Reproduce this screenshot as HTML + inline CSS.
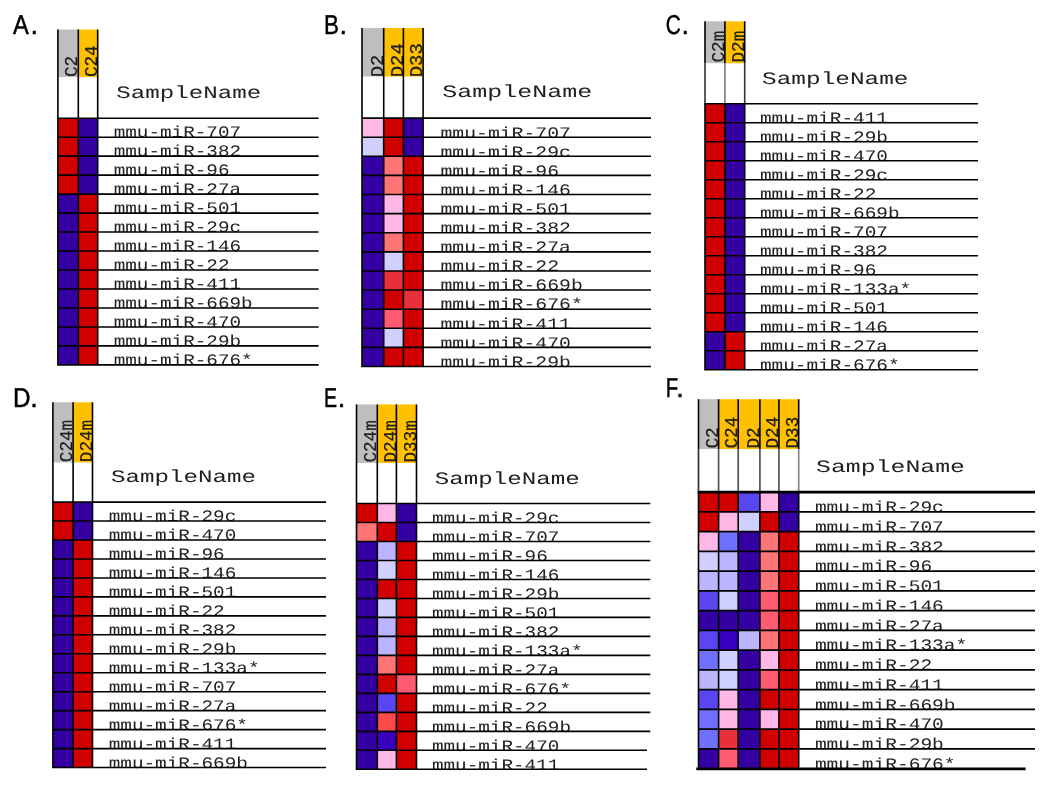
<!DOCTYPE html>
<html><head><meta charset="utf-8"><title>miRNA heatmaps</title>
<style>
html,body{margin:0;padding:0;background:#fff;}
body{width:1050px;height:791px;overflow:hidden;}
svg{display:block;text-rendering:geometricPrecision;filter:blur(0.3px);}
.lab{font-family:"Liberation Sans",sans-serif;fill:#000;stroke:#000;stroke-width:0.5;}
.cl{font-weight:normal;}
.t{font-family:"Liberation Mono",monospace;fill:#222;}
</style></head><body>

<svg width="1050" height="791" viewBox="0 0 1050 791">
<rect x="0" y="0" width="1050" height="791" fill="#fff"/>
<g>
<text class="lab" font-size="27.2" transform="translate(13.05,33.8) scale(0.870,1)">A</text>
<text class="lab" font-size="27.2" x="30.62" y="33.8">.</text>
<rect x="57.9" y="29.5" width="20.4" height="47.6" fill="#bebebe"/>
<rect x="78.3" y="29.5" width="19.4" height="47.6" fill="#ffc000"/>
<rect x="57.9" y="118.2" width="20.4" height="18.98" fill="#d10000"/>
<rect x="78.3" y="118.2" width="19.4" height="18.98" fill="#3500a2"/>
<rect x="57.9" y="137.18" width="20.4" height="18.98" fill="#d10000"/>
<rect x="78.3" y="137.18" width="19.4" height="18.98" fill="#3500a2"/>
<rect x="57.9" y="156.15" width="20.4" height="18.98" fill="#d10000"/>
<rect x="78.3" y="156.15" width="19.4" height="18.98" fill="#3500a2"/>
<rect x="57.9" y="175.13" width="20.4" height="18.98" fill="#d10000"/>
<rect x="78.3" y="175.13" width="19.4" height="18.98" fill="#3500a2"/>
<rect x="57.9" y="194.11" width="20.4" height="18.98" fill="#3500a2"/>
<rect x="78.3" y="194.11" width="19.4" height="18.98" fill="#d10000"/>
<rect x="57.9" y="213.09" width="20.4" height="18.98" fill="#3500a2"/>
<rect x="78.3" y="213.09" width="19.4" height="18.98" fill="#d10000"/>
<rect x="57.9" y="232.06" width="20.4" height="18.98" fill="#3500a2"/>
<rect x="78.3" y="232.06" width="19.4" height="18.98" fill="#d10000"/>
<rect x="57.9" y="251.04" width="20.4" height="18.98" fill="#3500a2"/>
<rect x="78.3" y="251.04" width="19.4" height="18.98" fill="#d10000"/>
<rect x="57.9" y="270.02" width="20.4" height="18.98" fill="#3500a2"/>
<rect x="78.3" y="270.02" width="19.4" height="18.98" fill="#d10000"/>
<rect x="57.9" y="288.99" width="20.4" height="18.98" fill="#3500a2"/>
<rect x="78.3" y="288.99" width="19.4" height="18.98" fill="#d10000"/>
<rect x="57.9" y="307.97" width="20.4" height="18.98" fill="#3500a2"/>
<rect x="78.3" y="307.97" width="19.4" height="18.98" fill="#d10000"/>
<rect x="57.9" y="326.95" width="20.4" height="18.98" fill="#3500a2"/>
<rect x="78.3" y="326.95" width="19.4" height="18.98" fill="#d10000"/>
<rect x="57.9" y="345.92" width="20.4" height="18.98" fill="#3500a2"/>
<rect x="78.3" y="345.92" width="19.4" height="18.98" fill="#d10000"/>
<text class="t" font-weight="normal" stroke="#000" stroke-width="0.2" font-size="18" transform="translate(77.4,77.1) rotate(-90) scale(0.9820,1)">C2</text>
<text class="t" font-weight="normal" stroke="#000" stroke-width="0.2" font-size="18" transform="translate(96.8,77.1) rotate(-90) scale(0.9820,1)">C24</text>
<text class="t" stroke="#111" stroke-width="0" font-size="17.5" transform="translate(116.3,98.3) scale(1.3800,1)">SampleName</text>
<text class="t" font-size="16" transform="translate(113.7,137.48) scale(1.2059,1)">mmu-miR-707</text>
<text class="t" font-size="16" transform="translate(113.7,156.45) scale(1.2059,1)">mmu-miR-382</text>
<text class="t" font-size="16" transform="translate(113.7,175.43) scale(1.2059,1)">mmu-miR-96</text>
<text class="t" font-size="16" transform="translate(113.7,194.41) scale(1.2059,1)">mmu-miR-27a</text>
<text class="t" font-size="16" transform="translate(113.7,213.39) scale(1.2059,1)">mmu-miR-501</text>
<text class="t" font-size="16" transform="translate(113.7,232.36) scale(1.2059,1)">mmu-miR-29c</text>
<text class="t" font-size="16" transform="translate(113.7,251.34) scale(1.2059,1)">mmu-miR-146</text>
<text class="t" font-size="16" transform="translate(113.7,270.32) scale(1.2059,1)">mmu-miR-22</text>
<text class="t" font-size="16" transform="translate(113.7,289.29) scale(1.2059,1)">mmu-miR-411</text>
<text class="t" font-size="16" transform="translate(113.7,308.27) scale(1.2059,1)">mmu-miR-669b</text>
<text class="t" font-size="16" transform="translate(113.7,327.25) scale(1.2059,1)">mmu-miR-470</text>
<text class="t" font-size="16" transform="translate(113.7,346.22) scale(1.2059,1)">mmu-miR-29b</text>
<text class="t" font-size="16" transform="translate(113.7,365.2) scale(1.2059,1)">mmu-miR-676*</text>
<path d="M57.9 29.5V365.7M78.3 29.5V365.7M97.7 29.5V365.7M57.1 118.2H318.6M57.1 137.18H318.6M57.1 156.15H318.6M57.1 175.13H318.6M57.1 194.11H318.6M57.1 213.09H318.6M57.1 232.06H318.6M57.1 251.04H318.6M57.1 270.02H318.6M57.1 288.99H318.6M57.1 307.97H318.6M57.1 326.95H318.6M57.1 345.92H318.6M57.1 364.9H318.6" stroke="#000" stroke-width="1.6" fill="none"/>
</g>
<g>
<text class="lab" font-size="27.2" transform="translate(323.97,33.8) scale(0.822,1)">B</text>
<text class="lab" font-size="27.2" x="339.52" y="33.8">.</text>
<rect x="362" y="27.9" width="21.7" height="48.6" fill="#bebebe"/>
<rect x="383.7" y="27.9" width="19.7" height="48.6" fill="#ffc000"/>
<rect x="403.4" y="27.9" width="19.7" height="48.6" fill="#ffc000"/>
<rect x="362" y="118.1" width="21.7" height="19.11" fill="#ffb8e6"/>
<rect x="383.7" y="118.1" width="19.7" height="19.11" fill="#d10000"/>
<rect x="403.4" y="118.1" width="19.7" height="19.11" fill="#3500a2"/>
<rect x="362" y="137.21" width="21.7" height="19.11" fill="#d0d0ff"/>
<rect x="383.7" y="137.21" width="19.7" height="19.11" fill="#d10000"/>
<rect x="403.4" y="137.21" width="19.7" height="19.11" fill="#3500a2"/>
<rect x="362" y="156.32" width="21.7" height="19.11" fill="#3500a2"/>
<rect x="383.7" y="156.32" width="19.7" height="19.11" fill="#ff7575"/>
<rect x="403.4" y="156.32" width="19.7" height="19.11" fill="#d10000"/>
<rect x="362" y="175.42" width="21.7" height="19.11" fill="#3500a2"/>
<rect x="383.7" y="175.42" width="19.7" height="19.11" fill="#ff7575"/>
<rect x="403.4" y="175.42" width="19.7" height="19.11" fill="#d10000"/>
<rect x="362" y="194.53" width="21.7" height="19.11" fill="#3500a2"/>
<rect x="383.7" y="194.53" width="19.7" height="19.11" fill="#ffb8e6"/>
<rect x="403.4" y="194.53" width="19.7" height="19.11" fill="#d10000"/>
<rect x="362" y="213.64" width="21.7" height="19.11" fill="#3500a2"/>
<rect x="383.7" y="213.64" width="19.7" height="19.11" fill="#ffb8e6"/>
<rect x="403.4" y="213.64" width="19.7" height="19.11" fill="#d10000"/>
<rect x="362" y="232.75" width="21.7" height="19.11" fill="#3500a2"/>
<rect x="383.7" y="232.75" width="19.7" height="19.11" fill="#ff7575"/>
<rect x="403.4" y="232.75" width="19.7" height="19.11" fill="#d10000"/>
<rect x="362" y="251.86" width="21.7" height="19.11" fill="#3500a2"/>
<rect x="383.7" y="251.86" width="19.7" height="19.11" fill="#d0d0ff"/>
<rect x="403.4" y="251.86" width="19.7" height="19.11" fill="#d10000"/>
<rect x="362" y="270.96" width="21.7" height="19.11" fill="#3500a2"/>
<rect x="383.7" y="270.96" width="19.7" height="19.11" fill="#e8303a"/>
<rect x="403.4" y="270.96" width="19.7" height="19.11" fill="#d10000"/>
<rect x="362" y="290.07" width="21.7" height="19.11" fill="#3500a2"/>
<rect x="383.7" y="290.07" width="19.7" height="19.11" fill="#d10000"/>
<rect x="403.4" y="290.07" width="19.7" height="19.11" fill="#e8303a"/>
<rect x="362" y="309.18" width="21.7" height="19.11" fill="#3500a2"/>
<rect x="383.7" y="309.18" width="19.7" height="19.11" fill="#ff5a70"/>
<rect x="403.4" y="309.18" width="19.7" height="19.11" fill="#d10000"/>
<rect x="362" y="328.29" width="21.7" height="19.11" fill="#3500a2"/>
<rect x="383.7" y="328.29" width="19.7" height="19.11" fill="#d0d0ff"/>
<rect x="403.4" y="328.29" width="19.7" height="19.11" fill="#d10000"/>
<rect x="362" y="347.4" width="21.7" height="19.11" fill="#3500a2"/>
<rect x="383.7" y="347.4" width="19.7" height="19.11" fill="#d10000"/>
<rect x="403.4" y="347.4" width="19.7" height="19.11" fill="#d10000"/>
<text class="t" font-weight="normal" stroke="#000" stroke-width="0.2" font-size="18" transform="translate(382.8,77.3) rotate(-90) scale(1.0507,1)">D2</text>
<text class="t" font-weight="normal" stroke="#000" stroke-width="0.2" font-size="18" transform="translate(402.5,77.3) rotate(-90) scale(1.0507,1)">D24</text>
<text class="t" font-weight="normal" stroke="#000" stroke-width="0.2" font-size="18" transform="translate(422.2,77.3) rotate(-90) scale(1.0507,1)">D33</text>
<text class="t" stroke="#111" stroke-width="0" font-size="17.5" transform="translate(442.3,97.4) scale(1.4269,1)">SampleName</text>
<text class="t" font-size="16" transform="translate(440.5,137.51) scale(1.2346,1)">mmu-miR-707</text>
<text class="t" font-size="16" transform="translate(440.5,156.62) scale(1.2346,1)">mmu-miR-29c</text>
<text class="t" font-size="16" transform="translate(440.5,175.72) scale(1.2346,1)">mmu-miR-96</text>
<text class="t" font-size="16" transform="translate(440.5,194.83) scale(1.2346,1)">mmu-miR-146</text>
<text class="t" font-size="16" transform="translate(440.5,213.94) scale(1.2346,1)">mmu-miR-501</text>
<text class="t" font-size="16" transform="translate(440.5,233.05) scale(1.2346,1)">mmu-miR-382</text>
<text class="t" font-size="16" transform="translate(440.5,252.16) scale(1.2346,1)">mmu-miR-27a</text>
<text class="t" font-size="16" transform="translate(440.5,271.26) scale(1.2346,1)">mmu-miR-22</text>
<text class="t" font-size="16" transform="translate(440.5,290.37) scale(1.2346,1)">mmu-miR-669b</text>
<text class="t" font-size="16" transform="translate(440.5,309.48) scale(1.2346,1)">mmu-miR-676*</text>
<text class="t" font-size="16" transform="translate(440.5,328.59) scale(1.2346,1)">mmu-miR-411</text>
<text class="t" font-size="16" transform="translate(440.5,347.7) scale(1.2346,1)">mmu-miR-470</text>
<text class="t" font-size="16" transform="translate(440.5,366.8) scale(1.2346,1)">mmu-miR-29b</text>
<path d="M362 27.9V367.3M383.7 27.9V367.3M403.4 27.9V367.3M423.1 27.9V367.3M361.2 118.1H651M361.2 137.21H651M361.2 156.32H651M361.2 175.42H651M361.2 194.53H651M361.2 213.64H651M361.2 232.75H651M361.2 251.86H651M361.2 270.96H651M361.2 290.07H651M361.2 309.18H651M361.2 328.29H651M361.2 347.4H651M361.2 366.5H651" stroke="#000" stroke-width="1.6" fill="none"/>
</g>
<g>
<text class="lab" font-size="27.2" transform="translate(665.74,33.8) scale(0.766,1)">C</text>
<text class="lab" font-size="27.2" x="681.52" y="33.8">.</text>
<rect x="705" y="21.3" width="19.9" height="41.9" fill="#bebebe"/>
<rect x="724.9" y="21.3" width="19.8" height="41.9" fill="#ffc000"/>
<rect x="705" y="103.8" width="19.9" height="19" fill="#d10000"/>
<rect x="724.9" y="103.8" width="19.8" height="19" fill="#3500a2"/>
<rect x="705" y="122.8" width="19.9" height="19" fill="#d10000"/>
<rect x="724.9" y="122.8" width="19.8" height="19" fill="#3500a2"/>
<rect x="705" y="141.8" width="19.9" height="19" fill="#d10000"/>
<rect x="724.9" y="141.8" width="19.8" height="19" fill="#3500a2"/>
<rect x="705" y="160.8" width="19.9" height="19" fill="#d10000"/>
<rect x="724.9" y="160.8" width="19.8" height="19" fill="#3500a2"/>
<rect x="705" y="179.8" width="19.9" height="19" fill="#d10000"/>
<rect x="724.9" y="179.8" width="19.8" height="19" fill="#3500a2"/>
<rect x="705" y="198.8" width="19.9" height="19" fill="#d10000"/>
<rect x="724.9" y="198.8" width="19.8" height="19" fill="#3500a2"/>
<rect x="705" y="217.8" width="19.9" height="19" fill="#d10000"/>
<rect x="724.9" y="217.8" width="19.8" height="19" fill="#3500a2"/>
<rect x="705" y="236.8" width="19.9" height="19" fill="#d10000"/>
<rect x="724.9" y="236.8" width="19.8" height="19" fill="#3500a2"/>
<rect x="705" y="255.8" width="19.9" height="19" fill="#d10000"/>
<rect x="724.9" y="255.8" width="19.8" height="19" fill="#3500a2"/>
<rect x="705" y="274.8" width="19.9" height="19" fill="#d10000"/>
<rect x="724.9" y="274.8" width="19.8" height="19" fill="#3500a2"/>
<rect x="705" y="293.8" width="19.9" height="19" fill="#d10000"/>
<rect x="724.9" y="293.8" width="19.8" height="19" fill="#3500a2"/>
<rect x="705" y="312.8" width="19.9" height="19" fill="#d10000"/>
<rect x="724.9" y="312.8" width="19.8" height="19" fill="#3500a2"/>
<rect x="705" y="331.8" width="19.9" height="19" fill="#3500a2"/>
<rect x="724.9" y="331.8" width="19.8" height="19" fill="#d10000"/>
<rect x="705" y="350.8" width="19.9" height="19" fill="#3500a2"/>
<rect x="724.9" y="350.8" width="19.8" height="19" fill="#d10000"/>
<text class="t" font-weight="normal" stroke="#000" stroke-width="0.15" font-size="18" transform="translate(724,62.5) rotate(-90) scale(0.9820,1)">C2m</text>
<text class="t" font-weight="normal" stroke="#000" stroke-width="0.15" font-size="18" transform="translate(743.8,62.5) rotate(-90) scale(0.9820,1)">D2m</text>
<text class="t" stroke="#111" stroke-width="0" font-size="17.5" transform="translate(762.1,84.1) scale(1.3938,1)">SampleName</text>
<text class="t" font-size="16" transform="translate(759.9,123.1) scale(1.2123,1)">mmu-miR-411</text>
<text class="t" font-size="16" transform="translate(759.9,142.1) scale(1.2123,1)">mmu-miR-29b</text>
<text class="t" font-size="16" transform="translate(759.9,161.1) scale(1.2123,1)">mmu-miR-470</text>
<text class="t" font-size="16" transform="translate(759.9,180.1) scale(1.2123,1)">mmu-miR-29c</text>
<text class="t" font-size="16" transform="translate(759.9,199.1) scale(1.2123,1)">mmu-miR-22</text>
<text class="t" font-size="16" transform="translate(759.9,218.1) scale(1.2123,1)">mmu-miR-669b</text>
<text class="t" font-size="16" transform="translate(759.9,237.1) scale(1.2123,1)">mmu-miR-707</text>
<text class="t" font-size="16" transform="translate(759.9,256.1) scale(1.2123,1)">mmu-miR-382</text>
<text class="t" font-size="16" transform="translate(759.9,275.1) scale(1.2123,1)">mmu-miR-96</text>
<text class="t" font-size="16" transform="translate(759.9,294.1) scale(1.2123,1)">mmu-miR-133a*</text>
<text class="t" font-size="16" transform="translate(759.9,313.1) scale(1.2123,1)">mmu-miR-501</text>
<text class="t" font-size="16" transform="translate(759.9,332.1) scale(1.2123,1)">mmu-miR-146</text>
<text class="t" font-size="16" transform="translate(759.9,351.1) scale(1.2123,1)">mmu-miR-27a</text>
<text class="t" font-size="16" transform="translate(759.9,370.1) scale(1.2123,1)">mmu-miR-676*</text>
<path d="M705 63.2V103.8" stroke="#333" stroke-width="1.6" fill="none"/>
<path d="M724.9 63.2V103.8" stroke="#777" stroke-width="1.6" fill="none"/>
<path d="M744.7 63.2V103.8" stroke="#333" stroke-width="1.6" fill="none"/>
<path d="M705 103.8V370.6M705 21.3V63.2M724.9 103.8V370.6M724.9 21.3V63.2M744.7 103.8V370.6M744.7 21.3V63.2M704.2 103.8H978M704.2 122.8H978M704.2 141.8H978M704.2 160.8H978M704.2 179.8H978M704.2 198.8H978M704.2 217.8H978M704.2 236.8H978M704.2 255.8H978M704.2 274.8H978M704.2 293.8H978M704.2 312.8H978M704.2 331.8H978M704.2 350.8H978M704.2 369.8H978" stroke="#000" stroke-width="1.6" fill="none"/>
</g>
<g>
<text class="lab" font-size="27.2" transform="translate(12.91,407.1) scale(0.894,1)">D</text>
<text class="lab" font-size="27.2" x="30.32" y="407.1">.</text>
<rect x="52.9" y="402.3" width="20.2" height="60.1" fill="#bebebe"/>
<rect x="73.1" y="402.3" width="19.4" height="60.1" fill="#ffc000"/>
<rect x="52.9" y="502.1" width="20.2" height="18.96" fill="#d10000"/>
<rect x="73.1" y="502.1" width="19.4" height="18.96" fill="#3500a2"/>
<rect x="52.9" y="521.06" width="20.2" height="18.96" fill="#d10000"/>
<rect x="73.1" y="521.06" width="19.4" height="18.96" fill="#3500a2"/>
<rect x="52.9" y="540.02" width="20.2" height="18.96" fill="#3500a2"/>
<rect x="73.1" y="540.02" width="19.4" height="18.96" fill="#d10000"/>
<rect x="52.9" y="558.98" width="20.2" height="18.96" fill="#3500a2"/>
<rect x="73.1" y="558.98" width="19.4" height="18.96" fill="#d10000"/>
<rect x="52.9" y="577.94" width="20.2" height="18.96" fill="#3500a2"/>
<rect x="73.1" y="577.94" width="19.4" height="18.96" fill="#d10000"/>
<rect x="52.9" y="596.9" width="20.2" height="18.96" fill="#3500a2"/>
<rect x="73.1" y="596.9" width="19.4" height="18.96" fill="#d10000"/>
<rect x="52.9" y="615.86" width="20.2" height="18.96" fill="#3500a2"/>
<rect x="73.1" y="615.86" width="19.4" height="18.96" fill="#d10000"/>
<rect x="52.9" y="634.82" width="20.2" height="18.96" fill="#3500a2"/>
<rect x="73.1" y="634.82" width="19.4" height="18.96" fill="#d10000"/>
<rect x="52.9" y="653.78" width="20.2" height="18.96" fill="#3500a2"/>
<rect x="73.1" y="653.78" width="19.4" height="18.96" fill="#d10000"/>
<rect x="52.9" y="672.74" width="20.2" height="18.96" fill="#3500a2"/>
<rect x="73.1" y="672.74" width="19.4" height="18.96" fill="#d10000"/>
<rect x="52.9" y="691.7" width="20.2" height="18.96" fill="#3500a2"/>
<rect x="73.1" y="691.7" width="19.4" height="18.96" fill="#d10000"/>
<rect x="52.9" y="710.66" width="20.2" height="18.96" fill="#3500a2"/>
<rect x="73.1" y="710.66" width="19.4" height="18.96" fill="#d10000"/>
<rect x="52.9" y="729.62" width="20.2" height="18.96" fill="#3500a2"/>
<rect x="73.1" y="729.62" width="19.4" height="18.96" fill="#d10000"/>
<rect x="52.9" y="748.58" width="20.2" height="18.96" fill="#3500a2"/>
<rect x="73.1" y="748.58" width="19.4" height="18.96" fill="#d10000"/>
<text class="t" font-weight="normal" stroke="#000" stroke-width="0.15" font-size="18" transform="translate(72.2,462.2) rotate(-90) scale(0.9820,1)">C24m</text>
<text class="t" font-weight="normal" stroke="#000" stroke-width="0.15" font-size="18" transform="translate(91.6,462.2) rotate(-90) scale(0.9820,1)">D24m</text>
<text class="t" stroke="#111" stroke-width="0" font-size="17.5" transform="translate(111.1,482.4) scale(1.3800,1)">SampleName</text>
<text class="t" font-size="16" transform="translate(108.7,521.36) scale(1.2081,1)">mmu-miR-29c</text>
<text class="t" font-size="16" transform="translate(108.7,540.32) scale(1.2081,1)">mmu-miR-470</text>
<text class="t" font-size="16" transform="translate(108.7,559.28) scale(1.2081,1)">mmu-miR-96</text>
<text class="t" font-size="16" transform="translate(108.7,578.24) scale(1.2081,1)">mmu-miR-146</text>
<text class="t" font-size="16" transform="translate(108.7,597.2) scale(1.2081,1)">mmu-miR-501</text>
<text class="t" font-size="16" transform="translate(108.7,616.16) scale(1.2081,1)">mmu-miR-22</text>
<text class="t" font-size="16" transform="translate(108.7,635.12) scale(1.2081,1)">mmu-miR-382</text>
<text class="t" font-size="16" transform="translate(108.7,654.08) scale(1.2081,1)">mmu-miR-29b</text>
<text class="t" font-size="16" transform="translate(108.7,673.04) scale(1.2081,1)">mmu-miR-133a*</text>
<text class="t" font-size="16" transform="translate(108.7,692) scale(1.2081,1)">mmu-miR-707</text>
<text class="t" font-size="16" transform="translate(108.7,710.96) scale(1.2081,1)">mmu-miR-27a</text>
<text class="t" font-size="16" transform="translate(108.7,729.92) scale(1.2081,1)">mmu-miR-676*</text>
<text class="t" font-size="16" transform="translate(108.7,748.88) scale(1.2081,1)">mmu-miR-411</text>
<text class="t" font-size="16" transform="translate(108.7,767.84) scale(1.2081,1)">mmu-miR-669b</text>
<path d="M52.9 402.3V768.34M73.1 402.3V768.34M92.5 402.3V768.34M52.1 502.1H326M52.1 521.06H326M52.1 540.02H326M52.1 558.98H326M52.1 577.94H326M52.1 596.9H326M52.1 615.86H326M52.1 634.82H326M52.1 653.78H326M52.1 672.74H326M52.1 691.7H326M52.1 710.66H326M52.1 729.62H326M52.1 748.58H326M52.1 767.54H326" stroke="#000" stroke-width="1.6" fill="none"/>
</g>
<g>
<text class="lab" font-size="27.2" transform="translate(324,407.1) scale(0.719,1)">E</text>
<text class="lab" font-size="27.2" x="337.72" y="407.1">.</text>
<rect x="356.5" y="404.4" width="20.8" height="58.6" fill="#bebebe"/>
<rect x="377.3" y="404.4" width="19.1" height="58.6" fill="#ffc000"/>
<rect x="396.4" y="404.4" width="20.1" height="58.6" fill="#ffc000"/>
<rect x="356.5" y="503.5" width="20.8" height="18.99" fill="#d10000"/>
<rect x="377.3" y="503.5" width="19.1" height="18.99" fill="#ffb8e6"/>
<rect x="396.4" y="503.5" width="20.1" height="18.99" fill="#3500a2"/>
<rect x="356.5" y="522.49" width="20.8" height="18.99" fill="#ff7575"/>
<rect x="377.3" y="522.49" width="19.1" height="18.99" fill="#d10000"/>
<rect x="396.4" y="522.49" width="20.1" height="18.99" fill="#3500a2"/>
<rect x="356.5" y="541.47" width="20.8" height="18.99" fill="#3500a2"/>
<rect x="377.3" y="541.47" width="19.1" height="18.99" fill="#bcb4ff"/>
<rect x="396.4" y="541.47" width="20.1" height="18.99" fill="#d10000"/>
<rect x="356.5" y="560.46" width="20.8" height="18.99" fill="#3500a2"/>
<rect x="377.3" y="560.46" width="19.1" height="18.99" fill="#d0d0ff"/>
<rect x="396.4" y="560.46" width="20.1" height="18.99" fill="#d10000"/>
<rect x="356.5" y="579.44" width="20.8" height="18.99" fill="#3500a2"/>
<rect x="377.3" y="579.44" width="19.1" height="18.99" fill="#d10000"/>
<rect x="396.4" y="579.44" width="20.1" height="18.99" fill="#d10000"/>
<rect x="356.5" y="598.43" width="20.8" height="18.99" fill="#3500a2"/>
<rect x="377.3" y="598.43" width="19.1" height="18.99" fill="#d0d0ff"/>
<rect x="396.4" y="598.43" width="20.1" height="18.99" fill="#d10000"/>
<rect x="356.5" y="617.42" width="20.8" height="18.99" fill="#3500a2"/>
<rect x="377.3" y="617.42" width="19.1" height="18.99" fill="#bcb4ff"/>
<rect x="396.4" y="617.42" width="20.1" height="18.99" fill="#d10000"/>
<rect x="356.5" y="636.4" width="20.8" height="18.99" fill="#3500a2"/>
<rect x="377.3" y="636.4" width="19.1" height="18.99" fill="#bcb4ff"/>
<rect x="396.4" y="636.4" width="20.1" height="18.99" fill="#d10000"/>
<rect x="356.5" y="655.39" width="20.8" height="18.99" fill="#3500a2"/>
<rect x="377.3" y="655.39" width="19.1" height="18.99" fill="#ff7575"/>
<rect x="396.4" y="655.39" width="20.1" height="18.99" fill="#d10000"/>
<rect x="356.5" y="674.37" width="20.8" height="18.99" fill="#3500a2"/>
<rect x="377.3" y="674.37" width="19.1" height="18.99" fill="#d10000"/>
<rect x="396.4" y="674.37" width="20.1" height="18.99" fill="#ff5a70"/>
<rect x="356.5" y="693.36" width="20.8" height="18.99" fill="#3500a2"/>
<rect x="377.3" y="693.36" width="19.1" height="18.99" fill="#5a46f0"/>
<rect x="396.4" y="693.36" width="20.1" height="18.99" fill="#d10000"/>
<rect x="356.5" y="712.35" width="20.8" height="18.99" fill="#3500a2"/>
<rect x="377.3" y="712.35" width="19.1" height="18.99" fill="#ff4a4a"/>
<rect x="396.4" y="712.35" width="20.1" height="18.99" fill="#d10000"/>
<rect x="356.5" y="731.33" width="20.8" height="18.99" fill="#3500a2"/>
<rect x="377.3" y="731.33" width="19.1" height="18.99" fill="#3a00c0"/>
<rect x="396.4" y="731.33" width="20.1" height="18.99" fill="#d10000"/>
<rect x="356.5" y="750.32" width="20.8" height="18.99" fill="#3500a2"/>
<rect x="377.3" y="750.32" width="19.1" height="18.99" fill="#ffb8e6"/>
<rect x="396.4" y="750.32" width="20.1" height="18.99" fill="#d10000"/>
<text class="t" font-weight="normal" stroke="#000" stroke-width="0.15" font-size="18" transform="translate(376.4,462.6) rotate(-90) scale(0.9820,1)">C24m</text>
<text class="t" font-weight="normal" stroke="#000" stroke-width="0.15" font-size="18" transform="translate(395.5,462.6) rotate(-90) scale(0.9820,1)">D24m</text>
<text class="t" font-weight="normal" stroke="#000" stroke-width="0.15" font-size="18" transform="translate(415.6,462.6) rotate(-90) scale(0.9820,1)">D33m</text>
<text class="t" stroke="#111" stroke-width="0" font-size="17.5" transform="translate(434.7,484.1) scale(1.3800,1)">SampleName</text>
<text class="t" font-size="16" transform="translate(431.9,522.79) scale(1.2070,1)">mmu-miR-29c</text>
<text class="t" font-size="16" transform="translate(431.9,541.77) scale(1.2070,1)">mmu-miR-707</text>
<text class="t" font-size="16" transform="translate(431.9,560.76) scale(1.2070,1)">mmu-miR-96</text>
<text class="t" font-size="16" transform="translate(431.9,579.74) scale(1.2070,1)">mmu-miR-146</text>
<text class="t" font-size="16" transform="translate(431.9,598.73) scale(1.2070,1)">mmu-miR-29b</text>
<text class="t" font-size="16" transform="translate(431.9,617.72) scale(1.2070,1)">mmu-miR-501</text>
<text class="t" font-size="16" transform="translate(431.9,636.7) scale(1.2070,1)">mmu-miR-382</text>
<text class="t" font-size="16" transform="translate(431.9,655.69) scale(1.2070,1)">mmu-miR-133a*</text>
<text class="t" font-size="16" transform="translate(431.9,674.67) scale(1.2070,1)">mmu-miR-27a</text>
<text class="t" font-size="16" transform="translate(431.9,693.66) scale(1.2070,1)">mmu-miR-676*</text>
<text class="t" font-size="16" transform="translate(431.9,712.65) scale(1.2070,1)">mmu-miR-22</text>
<text class="t" font-size="16" transform="translate(431.9,731.63) scale(1.2070,1)">mmu-miR-669b</text>
<text class="t" font-size="16" transform="translate(431.9,750.62) scale(1.2070,1)">mmu-miR-470</text>
<text class="t" font-size="16" transform="translate(431.9,769.6) scale(1.2070,1)">mmu-miR-411</text>
<path d="M356.5 404.4V770.1M377.3 404.4V770.1M396.4 404.4V770.1M416.5 404.4V770.1M355.7 503.5H650.3M355.7 522.49H650.3M355.7 541.47H650.3M355.7 560.46H650.3M355.7 579.44H650.3M355.7 598.43H650.3M355.7 617.42H650.3M355.7 636.4H650.3M355.7 655.39H650.3M355.7 674.37H650.3M355.7 693.36H650.3M355.7 712.35H650.3M355.7 731.33H650.3M355.7 750.32H647M355.7 769.3H647" stroke="#000" stroke-width="1.6" fill="none"/>
</g>
<g>
<text class="lab" font-size="27.2" transform="translate(665.64,396.6) scale(0.745,1)">F</text>
<text class="lab" font-size="27.2" x="676.22" y="396.6">.</text>
<rect x="698.5" y="399.2" width="20.1" height="49.9" fill="#bebebe"/>
<rect x="718.6" y="399.2" width="19.6" height="49.9" fill="#ffc000"/>
<rect x="738.2" y="399.2" width="21.7" height="49.9" fill="#ffc000"/>
<rect x="759.9" y="399.2" width="19" height="49.9" fill="#ffc000"/>
<rect x="778.9" y="399.2" width="19.8" height="49.9" fill="#ffc000"/>
<rect x="698.5" y="492.1" width="20.1" height="19.75" fill="#d10000"/>
<rect x="718.6" y="492.1" width="19.6" height="19.75" fill="#d10000"/>
<rect x="738.2" y="492.1" width="21.7" height="19.75" fill="#5a46f0"/>
<rect x="759.9" y="492.1" width="19" height="19.75" fill="#ffb8e6"/>
<rect x="778.9" y="492.1" width="19.8" height="19.75" fill="#3500a2"/>
<rect x="698.5" y="511.85" width="20.1" height="19.75" fill="#d10000"/>
<rect x="718.6" y="511.85" width="19.6" height="19.75" fill="#ffb8e6"/>
<rect x="738.2" y="511.85" width="21.7" height="19.75" fill="#d0d0ff"/>
<rect x="759.9" y="511.85" width="19" height="19.75" fill="#d10000"/>
<rect x="778.9" y="511.85" width="19.8" height="19.75" fill="#3500a2"/>
<rect x="698.5" y="531.6" width="20.1" height="19.75" fill="#ffb8e6"/>
<rect x="718.6" y="531.6" width="19.6" height="19.75" fill="#7070ff"/>
<rect x="738.2" y="531.6" width="21.7" height="19.75" fill="#3500a2"/>
<rect x="759.9" y="531.6" width="19" height="19.75" fill="#ff7575"/>
<rect x="778.9" y="531.6" width="19.8" height="19.75" fill="#d10000"/>
<rect x="698.5" y="551.35" width="20.1" height="19.75" fill="#d0d0ff"/>
<rect x="718.6" y="551.35" width="19.6" height="19.75" fill="#bcb4ff"/>
<rect x="738.2" y="551.35" width="21.7" height="19.75" fill="#3500a2"/>
<rect x="759.9" y="551.35" width="19" height="19.75" fill="#ff7575"/>
<rect x="778.9" y="551.35" width="19.8" height="19.75" fill="#d10000"/>
<rect x="698.5" y="571.1" width="20.1" height="19.75" fill="#bcb4ff"/>
<rect x="718.6" y="571.1" width="19.6" height="19.75" fill="#bcb4ff"/>
<rect x="738.2" y="571.1" width="21.7" height="19.75" fill="#3500a2"/>
<rect x="759.9" y="571.1" width="19" height="19.75" fill="#ff7575"/>
<rect x="778.9" y="571.1" width="19.8" height="19.75" fill="#d10000"/>
<rect x="698.5" y="590.85" width="20.1" height="19.75" fill="#5a46f0"/>
<rect x="718.6" y="590.85" width="19.6" height="19.75" fill="#d0d0ff"/>
<rect x="738.2" y="590.85" width="21.7" height="19.75" fill="#3500a2"/>
<rect x="759.9" y="590.85" width="19" height="19.75" fill="#ff5a70"/>
<rect x="778.9" y="590.85" width="19.8" height="19.75" fill="#d10000"/>
<rect x="698.5" y="610.6" width="20.1" height="19.75" fill="#3500a2"/>
<rect x="718.6" y="610.6" width="19.6" height="19.75" fill="#3500a2"/>
<rect x="738.2" y="610.6" width="21.7" height="19.75" fill="#3500a2"/>
<rect x="759.9" y="610.6" width="19" height="19.75" fill="#ff5a70"/>
<rect x="778.9" y="610.6" width="19.8" height="19.75" fill="#d10000"/>
<rect x="698.5" y="630.35" width="20.1" height="19.75" fill="#5a46f0"/>
<rect x="718.6" y="630.35" width="19.6" height="19.75" fill="#3a00c0"/>
<rect x="738.2" y="630.35" width="21.7" height="19.75" fill="#bcb4ff"/>
<rect x="759.9" y="630.35" width="19" height="19.75" fill="#ff7575"/>
<rect x="778.9" y="630.35" width="19.8" height="19.75" fill="#d10000"/>
<rect x="698.5" y="650.1" width="20.1" height="19.75" fill="#7070ff"/>
<rect x="718.6" y="650.1" width="19.6" height="19.75" fill="#d0d0ff"/>
<rect x="738.2" y="650.1" width="21.7" height="19.75" fill="#3500a2"/>
<rect x="759.9" y="650.1" width="19" height="19.75" fill="#ffb8e6"/>
<rect x="778.9" y="650.1" width="19.8" height="19.75" fill="#d10000"/>
<rect x="698.5" y="669.85" width="20.1" height="19.75" fill="#bcb4ff"/>
<rect x="718.6" y="669.85" width="19.6" height="19.75" fill="#d0d0ff"/>
<rect x="738.2" y="669.85" width="21.7" height="19.75" fill="#3500a2"/>
<rect x="759.9" y="669.85" width="19" height="19.75" fill="#ff5a70"/>
<rect x="778.9" y="669.85" width="19.8" height="19.75" fill="#d10000"/>
<rect x="698.5" y="689.6" width="20.1" height="19.75" fill="#5a46f0"/>
<rect x="718.6" y="689.6" width="19.6" height="19.75" fill="#ffb8e6"/>
<rect x="738.2" y="689.6" width="21.7" height="19.75" fill="#3500a2"/>
<rect x="759.9" y="689.6" width="19" height="19.75" fill="#d10000"/>
<rect x="778.9" y="689.6" width="19.8" height="19.75" fill="#d10000"/>
<rect x="698.5" y="709.35" width="20.1" height="19.75" fill="#7070ff"/>
<rect x="718.6" y="709.35" width="19.6" height="19.75" fill="#ffb8e6"/>
<rect x="738.2" y="709.35" width="21.7" height="19.75" fill="#3500a2"/>
<rect x="759.9" y="709.35" width="19" height="19.75" fill="#ffb8e6"/>
<rect x="778.9" y="709.35" width="19.8" height="19.75" fill="#d10000"/>
<rect x="698.5" y="729.1" width="20.1" height="19.75" fill="#7070ff"/>
<rect x="718.6" y="729.1" width="19.6" height="19.75" fill="#e8303a"/>
<rect x="738.2" y="729.1" width="21.7" height="19.75" fill="#3500a2"/>
<rect x="759.9" y="729.1" width="19" height="19.75" fill="#d10000"/>
<rect x="778.9" y="729.1" width="19.8" height="19.75" fill="#d10000"/>
<rect x="698.5" y="748.85" width="20.1" height="19.75" fill="#3500a2"/>
<rect x="718.6" y="748.85" width="19.6" height="19.75" fill="#ff5a70"/>
<rect x="738.2" y="748.85" width="21.7" height="19.75" fill="#3500a2"/>
<rect x="759.9" y="748.85" width="19" height="19.75" fill="#d10000"/>
<rect x="778.9" y="748.85" width="19.8" height="19.75" fill="#d10000"/>
<text class="t" font-weight="normal" stroke="#000" stroke-width="0.2" font-size="18" transform="translate(717.7,448.5) rotate(-90) scale(0.9820,1)">C2</text>
<text class="t" font-weight="normal" stroke="#000" stroke-width="0.2" font-size="18" transform="translate(737.3,448.5) rotate(-90) scale(0.9820,1)">C24</text>
<text class="t" font-weight="normal" stroke="#000" stroke-width="0.2" font-size="18" transform="translate(759,448.5) rotate(-90) scale(0.9820,1)">D2</text>
<text class="t" font-weight="normal" stroke="#000" stroke-width="0.2" font-size="18" transform="translate(778,448.5) rotate(-90) scale(0.9820,1)">D24</text>
<text class="t" font-weight="normal" stroke="#000" stroke-width="0.2" font-size="18" transform="translate(797.8,448.5) rotate(-90) scale(0.9820,1)">D33</text>
<text class="t" stroke="#111" stroke-width="0" font-size="17.5" transform="translate(816.1,471.6) scale(1.4173,1)">SampleName</text>
<text class="t" font-size="16" transform="translate(814.9,512.15) scale(1.2208,1)">mmu-miR-29c</text>
<text class="t" font-size="16" transform="translate(814.9,531.9) scale(1.2208,1)">mmu-miR-707</text>
<text class="t" font-size="16" transform="translate(814.9,551.65) scale(1.2208,1)">mmu-miR-382</text>
<text class="t" font-size="16" transform="translate(814.9,571.4) scale(1.2208,1)">mmu-miR-96</text>
<text class="t" font-size="16" transform="translate(814.9,591.15) scale(1.2208,1)">mmu-miR-501</text>
<text class="t" font-size="16" transform="translate(814.9,610.9) scale(1.2208,1)">mmu-miR-146</text>
<text class="t" font-size="16" transform="translate(814.9,630.65) scale(1.2208,1)">mmu-miR-27a</text>
<text class="t" font-size="16" transform="translate(814.9,650.4) scale(1.2208,1)">mmu-miR-133a*</text>
<text class="t" font-size="16" transform="translate(814.9,670.15) scale(1.2208,1)">mmu-miR-22</text>
<text class="t" font-size="16" transform="translate(814.9,689.9) scale(1.2208,1)">mmu-miR-411</text>
<text class="t" font-size="16" transform="translate(814.9,709.65) scale(1.2208,1)">mmu-miR-669b</text>
<text class="t" font-size="16" transform="translate(814.9,729.4) scale(1.2208,1)">mmu-miR-470</text>
<text class="t" font-size="16" transform="translate(814.9,749.15) scale(1.2208,1)">mmu-miR-29b</text>
<text class="t" font-size="16" transform="translate(814.9,768.9) scale(1.2208,1)">mmu-miR-676*</text>
<path d="M698.5 449.1V492.1" stroke="#333" stroke-width="1.7" fill="none"/>
<path d="M718.6 449.1V492.1" stroke="#555" stroke-width="1.7" fill="none"/>
<path d="M738.2 449.1V492.1" stroke="#555" stroke-width="1.7" fill="none"/>
<path d="M759.9 449.1V492.1" stroke="#555" stroke-width="1.7" fill="none"/>
<path d="M778.9 449.1V492.1" stroke="#555" stroke-width="1.7" fill="none"/>
<path d="M798.7 449.1V492.1" stroke="#888" stroke-width="1.7" fill="none"/>
<path d="M698.5 492.1V769.4M698.5 399.2V449.1M718.6 492.1V769.4M718.6 399.2V449.1M738.2 492.1V769.4M738.2 399.2V449.1M759.9 492.1V769.4M759.9 399.2V449.1M778.9 492.1V769.4M778.9 399.2V449.1M798.7 492.1V769.4M798.7 399.2V449.1M697.7 511.85H1035M697.7 531.6H1035M697.7 551.35H1035M697.7 571.1H1035M697.7 590.85H1035M697.7 610.6H1035M697.7 630.35H1035M697.7 650.1H1035M697.7 669.85H1035M697.7 689.6H1035M697.7 709.35H1035M697.7 729.1H1035M697.7 748.85H1035" stroke="#000" stroke-width="1.6" fill="none"/>
<path d="M697.7 492.1H1035" stroke="#000" stroke-width="2.6" fill="none"/>
<path d="M696.3 768.9H1025.6" stroke="#000" stroke-width="2.6" fill="none"/>
</g>
</svg>
</body></html>
